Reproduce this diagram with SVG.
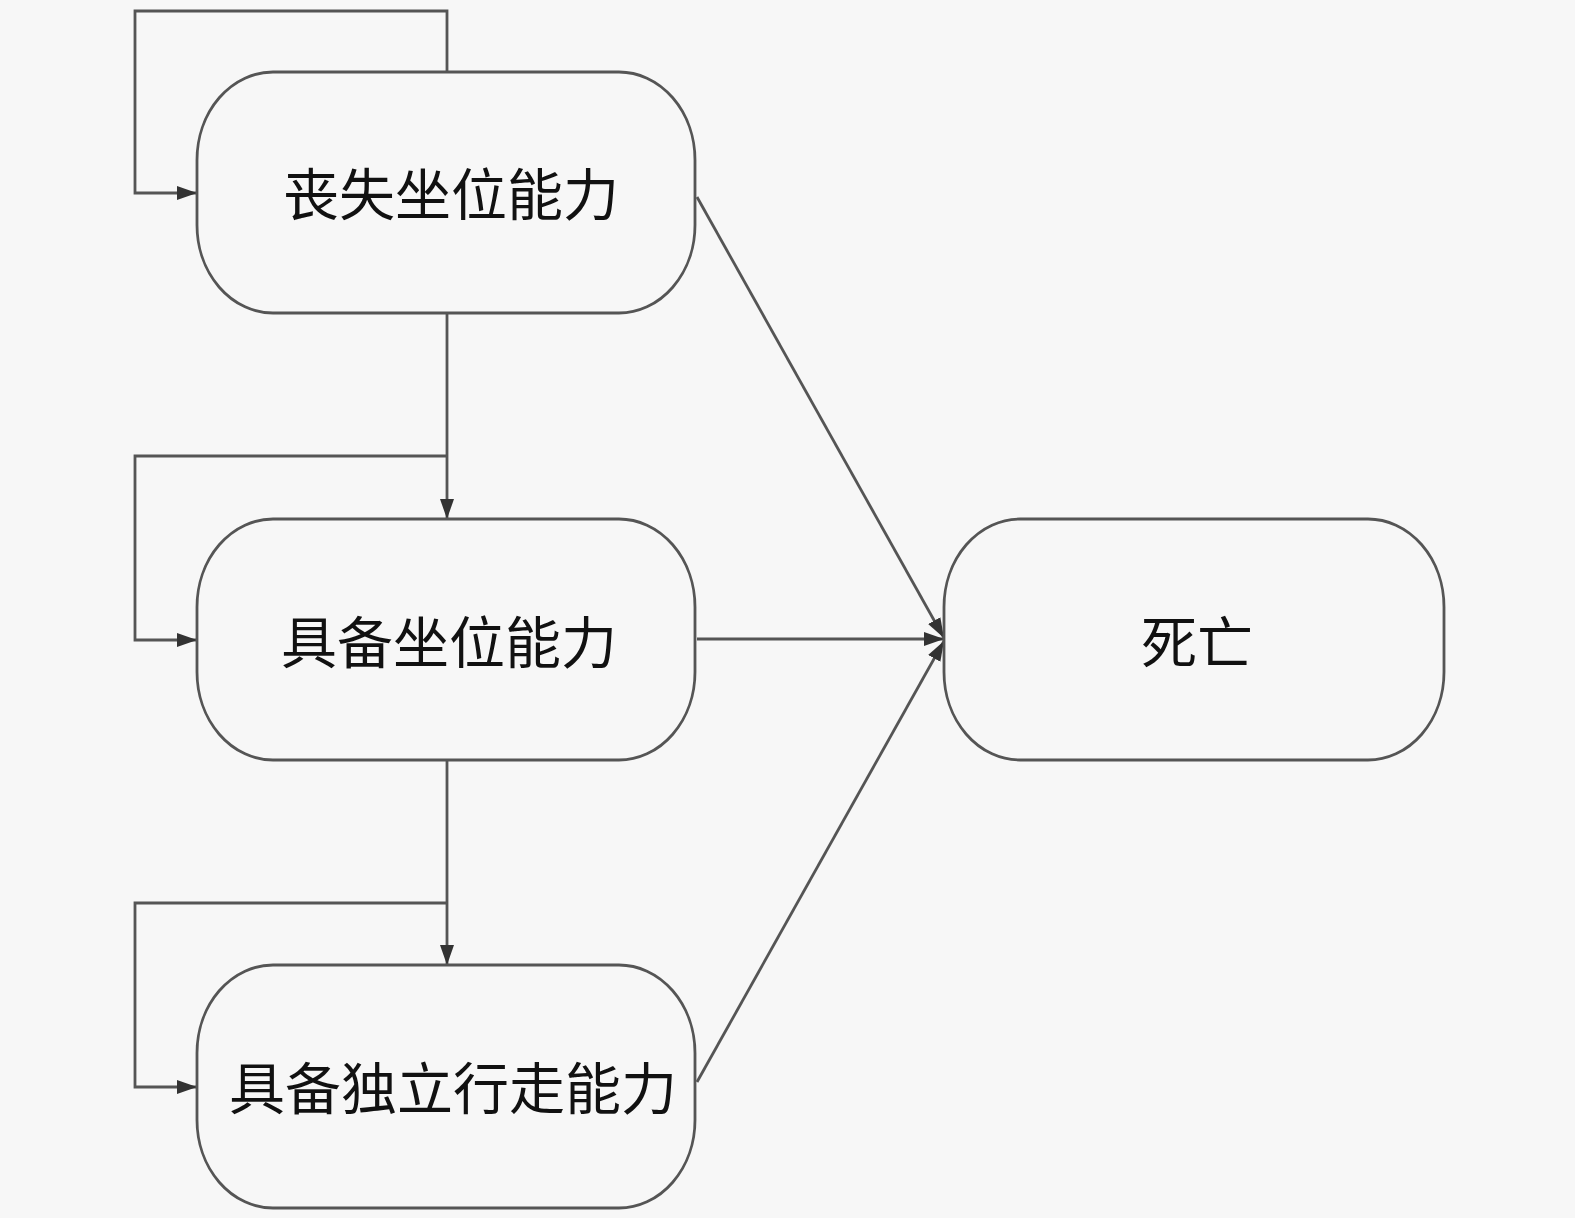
<svg xmlns="http://www.w3.org/2000/svg" width="1575" height="1218" viewBox="0 0 1575 1218">
<style>
.node{fill:#f7f7f7;stroke:#555;stroke-width:2.8}
.lbl{font-family:"Noto Sans CJK SC","Noto Sans",sans-serif;font-size:56px;fill:#111;text-anchor:middle;dominant-baseline:central}
.edge{fill:none;stroke:#555;stroke-width:2.8}
</style>
<defs>
<marker id="arr" viewBox="0 0 20 14" refX="20" refY="7" markerWidth="20" markerHeight="14" markerUnits="userSpaceOnUse" orient="auto">
<path d="M0,0 L20,7 L0,14 z" fill="#333"/>
</marker>
</defs>
<rect width="1575" height="1218" fill="#f7f7f7"/>
<g id="connectors">
<path class="edge" d="M447,72 V11 H135 V193 H197" marker-end="url(#arr)"/>
<path class="edge" d="M447,313 V519" marker-end="url(#arr)"/>
<path class="edge" d="M447,456 H135 V640 H197" marker-end="url(#arr)"/>
<path class="edge" d="M447,760 V965" marker-end="url(#arr)"/>
<path class="edge" d="M447,903 H135 V1087 H197" marker-end="url(#arr)"/>
<path class="edge" d="M697,197 L944,638" marker-end="url(#arr)"/>
<path class="edge" d="M697,639 H944" marker-end="url(#arr)"/>
<path class="edge" d="M697,1082 L944,641" marker-end="url(#arr)"/>
</g>
<g id="n1"><rect class="node" x="197" y="72" width="498" height="241" rx="76" ry="88"/><text class="lbl" x="451" y="190">丧失坐位能力</text></g>
<g id="n2"><rect class="node" x="197" y="519" width="498" height="241" rx="76" ry="88"/><text class="lbl" x="449" y="638">具备坐位能力</text></g>
<g id="n3"><rect class="node" x="197" y="965" width="498" height="243" rx="76" ry="88"/><text class="lbl" x="453" y="1084">具备独立行走能力</text></g>
<g id="n4"><rect class="node" x="944" y="519" width="500" height="241" rx="76" ry="88"/><text class="lbl" x="1197" y="638">死亡</text></g>
</svg>
